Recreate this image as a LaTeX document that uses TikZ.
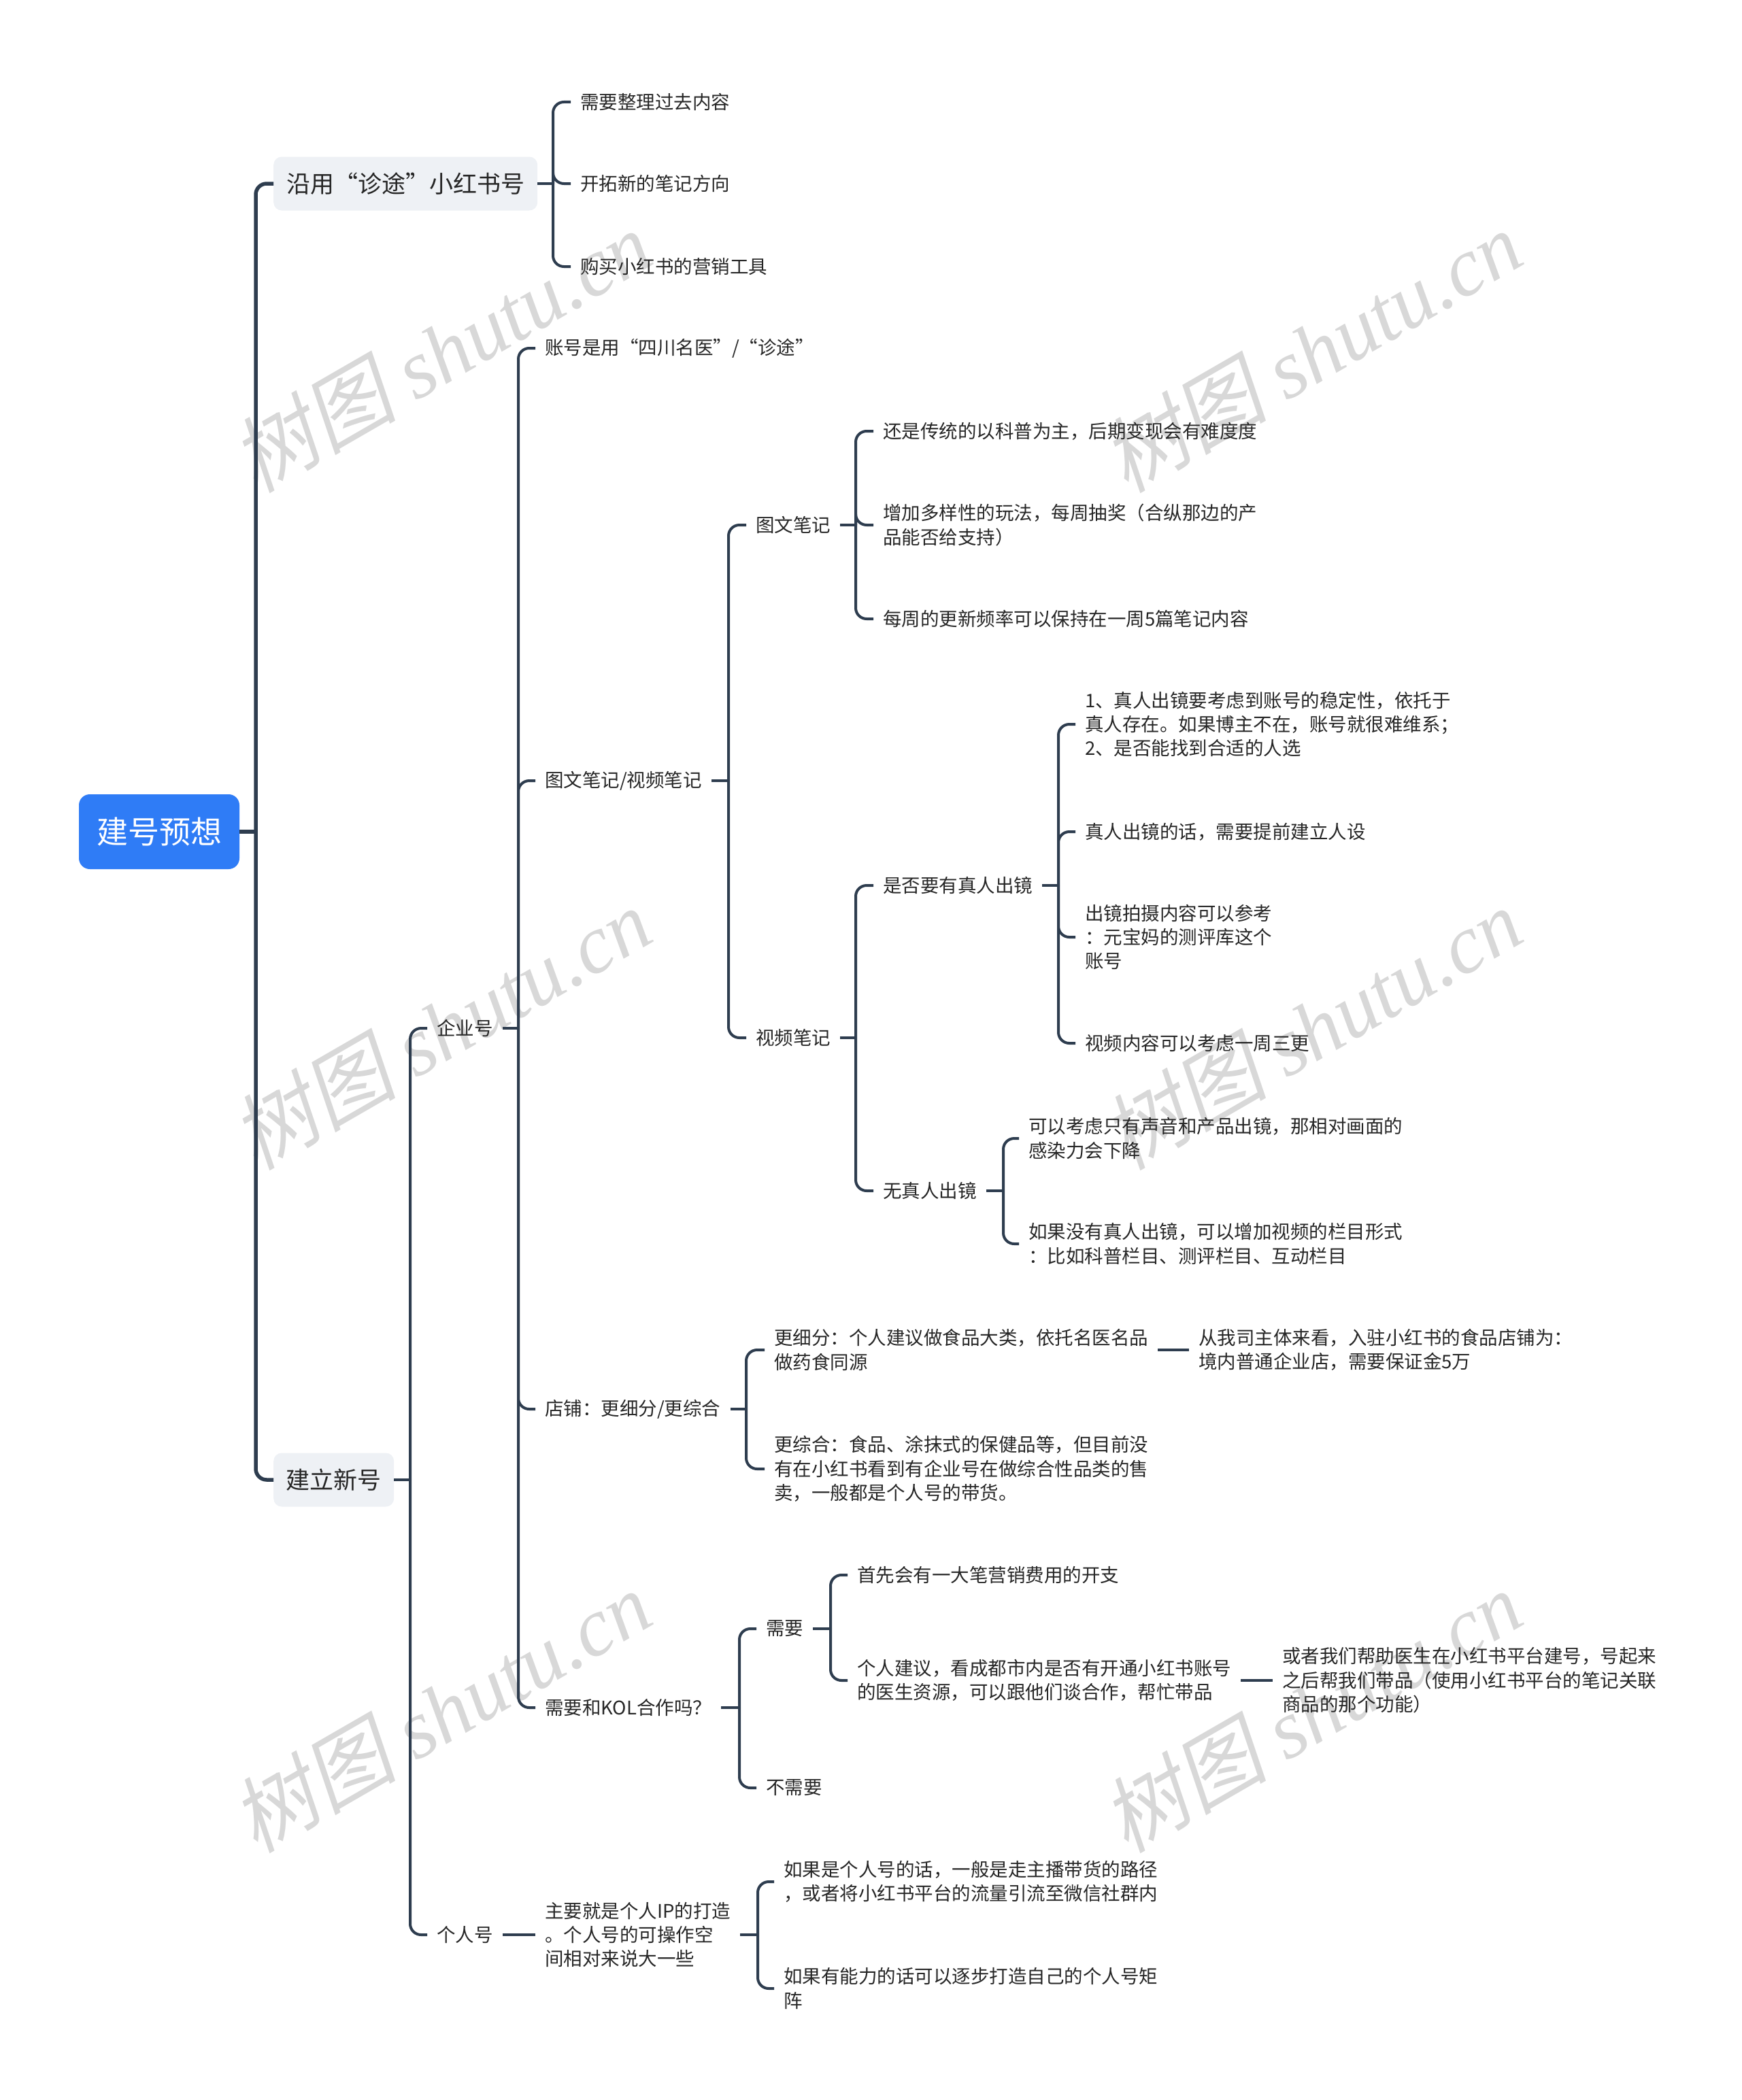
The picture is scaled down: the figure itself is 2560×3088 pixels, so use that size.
\documentclass[tikz,border=0pt]{standalone}
\usepackage{fontspec}
\setmainfont{Noto Sans CJK SC}
\newfontfamily\wmcjk[FakeSlant=0.2]{Noto Sans CJK SC}
\newfontfamily\wmlat{Liberation Serif}
\usetikzlibrary{calc}
\definecolor{lineC}{HTML}{2E3D4F}
\definecolor{txtC}{HTML}{262626}
\definecolor{boxC}{HTML}{EEF1F5}
\definecolor{rootC}{HTML}{2F7CF6}
\definecolor{wmC}{RGB}{216,216,216}
\tikzset{
  conn/.style={draw=lineC, line width=4pt, rounded corners=16pt},
  trunk/.style={conn, line width=5.5pt},
  leaf/.style={anchor=west, inner xsep=14pt, inner ysep=4pt, align=left,
    font=\fontsize{27.5}{35.4}\selectfont, text=txtC},
  topic/.style={anchor=west, fill=boxC, rounded corners=12pt, inner sep=0pt,
    font=\fontsize{35}{42}\selectfont, text=txtC, minimum height=79pt},
  rootbox/.style={fill=rootC, rounded corners=16pt, text=white, inner sep=0pt,
    font=\fontsize{46}{55}\selectfont, minimum width=236pt, minimum height=110pt},
  wm/.style={text=wmC, rotate=30, inner sep=0pt, font=\fontsize{122}{130}\selectfont}
}
\begin{document}
\begin{tikzpicture}[x=1pt,y=-1pt]
\useasboundingbox (0,0) rectangle (2560,3088);
% watermarks
\foreach \i/\p in {1/{(648,516)},2/{(1928,516)},3/{(648,1512)},4/{(1928,1512)},5/{(648,2516)},6/{(1928,2516)}}{
  \node[wm] (wm\i) at \p {{\wmcjk 树图} {\wmlat\itshape shutu.cn}};
}
% root and topics
\node[rootbox] (root) at (234,1223) {建号预想};
\node[topic, minimum width=388pt] (t1) at (402,270) {沿用“诊途”小红书号};
\node[topic, minimum width=177pt] (t2) at (402,2176) {建立新号};
\coordinate (rootb) at (376,1223);
\draw[trunk] (root.east) -- (rootb);
\draw[trunk] (rootb) |- (t1.west);
\draw[trunk] (rootb) |- (t2.west);

% t1 children
\node[leaf] (a1) at (839,150) {需要整理过去内容};
\node[leaf] (a2) at (839,270) {开拓新的笔记方向};
\node[leaf] (a3) at (839,392) {购买小红书的营销工具};
\coordinate (t1b) at (813,270);
\draw[conn] (t1.east) -- (t1b);
\foreach \c in {a1,a2,a3} \draw[conn] (t1b) |- (\c.west);

% t2 children
\node[leaf] (qy) at (628,1512) {企业号};
\node[leaf] (gr) at (628,2845) {个人号};
\coordinate (t2b) at (603,2176);
\draw[conn] (t2.east) -- (t2b);
\foreach \c in {qy,gr} \draw[conn] (t2b) |- (\c.west);

% 企业号 children
\node[leaf] (b1) at (787,512) {账号是用“四川名医”/“诊途”};
\node[leaf] (b2) at (787,1148) {图文笔记/视频笔记};
\node[leaf] (b3) at (787,2072) {店铺：更细分/更综合};
\node[leaf] (b4) at (787,2511) {需要和KOL合作吗？};
\coordinate (qyb) at (762,1512);
\draw[conn] (qy.east) -- (qyb);
\foreach \c in {b1,b2,b3,b4} \draw[conn] (qyb) |- (\c.west);

% 图文笔记/视频笔记
\node[leaf] (c1) at (1097,772) {图文笔记};
\node[leaf] (c2) at (1097,1526) {视频笔记};
\coordinate (b2b) at (1071,1148);
\draw[conn] (b2.east) -- (b2b);
\foreach \c in {c1,c2} \draw[conn] (b2b) |- (\c.west);

% 图文笔记 children
\node[leaf] (d1) at (1284,634) {还是传统的以科普为主，后期变现会有难度度};
\node[leaf] (d2) at (1284,772) {增加多样性的玩法，每周抽奖（合纵那边的产\\品能否给支持）};
\node[leaf] (d3) at (1284,910) {每周的更新频率可以保持在一周5篇笔记内容};
\coordinate (c1b) at (1258,772);
\draw[conn] (c1.east) -- (c1b);
\foreach \c in {d1,d2,d3} \draw[conn] (c1b) |- (\c.west);

% 视频笔记 children
\node[leaf] (e1) at (1284,1302) {是否要有真人出镜};
\node[leaf] (e2) at (1284,1751) {无真人出镜};
\coordinate (c2b) at (1258,1526);
\draw[conn] (c2.east) -- (c2b);
\foreach \c in {e1,e2} \draw[conn] (c2b) |- (\c.west);

% 是否要有真人出镜 children
\node[leaf] (f1) at (1581,1065) {1、真人出镜要考虑到账号的稳定性，依托于\\真人存在。如果博主不在，账号就很难维系；\\2、是否能找到合适的人选};
\node[leaf] (f2) at (1581,1223) {真人出镜的话，需要提前建立人设};
\node[leaf] (f3) at (1581,1378) {出镜拍摄内容可以参考\\：元宝妈的测评库这个\\账号};
\node[leaf] (f4) at (1581,1534) {视频内容可以考虑一周三更};
\coordinate (e1b) at (1556,1302);
\draw[conn] (e1.east) -- (e1b);
\foreach \c in {f1,f2,f3,f4} \draw[conn] (e1b) |- (\c.west);

% 无真人出镜 children
\node[leaf] (g1) at (1498,1674) {可以考虑只有声音和产品出镜，那相对画面的\\感染力会下降};
\node[leaf] (g2) at (1498,1829) {如果没有真人出镜，可以增加视频的栏目形式\\：比如科普栏目、测评栏目、互动栏目};
\coordinate (e2b) at (1475,1751);
\draw[conn] (e2.east) -- (e2b);
\foreach \c in {g1,g2} \draw[conn] (e2b) |- (\c.west);

% 店铺 children
\node[leaf] (h1) at (1124,1985) {更细分：个人建议做食品大类，依托名医名品\\做药食同源};
\node[leaf] (h2) at (1124,2160) {更综合：食品、涂抹式的保健品等，但目前没\\有在小红书看到有企业号在做综合性品类的售\\卖，一般都是个人号的带货。};
\coordinate (b3b) at (1097,2072);
\draw[conn] (b3.east) -- (b3b);
\foreach \c in {h1,h2} \draw[conn] (b3b) |- (\c.west);
\node[leaf] (i1) at (1748,1985) {从我司主体来看，入驻小红书的食品店铺为：\\境内普通企业店，需要保证金5万};
\draw[conn] (h1.east) -- (i1.west);

% KOL children
\node[leaf] (j1) at (1112,2395) {需要};
\node[leaf] (j2) at (1112,2629) {不需要};
\coordinate (b4b) at (1087,2511);
\draw[conn] (b4.east) -- (b4b);
\foreach \c in {j1,j2} \draw[conn] (b4b) |- (\c.west);
\node[leaf] (k1) at (1246,2316) {首先会有一大笔营销费用的开支};
\node[leaf] (k2) at (1246,2471) {个人建议，看成都市内是否有开通小红书账号\\的医生资源，可以跟他们谈合作，帮忙带品};
\coordinate (j1b) at (1221,2395);
\draw[conn] (j1.east) -- (j1b);
\foreach \c in {k1,k2} \draw[conn] (j1b) |- (\c.west);
\node[leaf] (l1) at (1871,2471) {或者我们帮助医生在小红书平台建号，号起来\\之后帮我们带品（使用小红书平台的笔记关联\\商品的那个功能）};
\draw[conn] (k2.east) -- (l1.west);

% 个人号 children
\node[leaf] (m1) at (787,2845) {主要就是个人IP的打造\\。个人号的可操作空\\间相对来说大一些};
\draw[conn] (gr.east) -- (m1.west);
\node[leaf] (n1) at (1138,2767) {如果是个人号的话，一般是走主播带货的路径\\，或者将小红书平台的流量引流至微信社群内};
\node[leaf] (n2) at (1138,2924) {如果有能力的话可以逐步打造自己的个人号矩\\阵};
\coordinate (m1b) at (1114,2845);
\draw[conn] (m1.east) -- (m1b);
\foreach \c in {n1,n2} \draw[conn] (m1b) |- (\c.west);
\end{tikzpicture}
\end{document}
